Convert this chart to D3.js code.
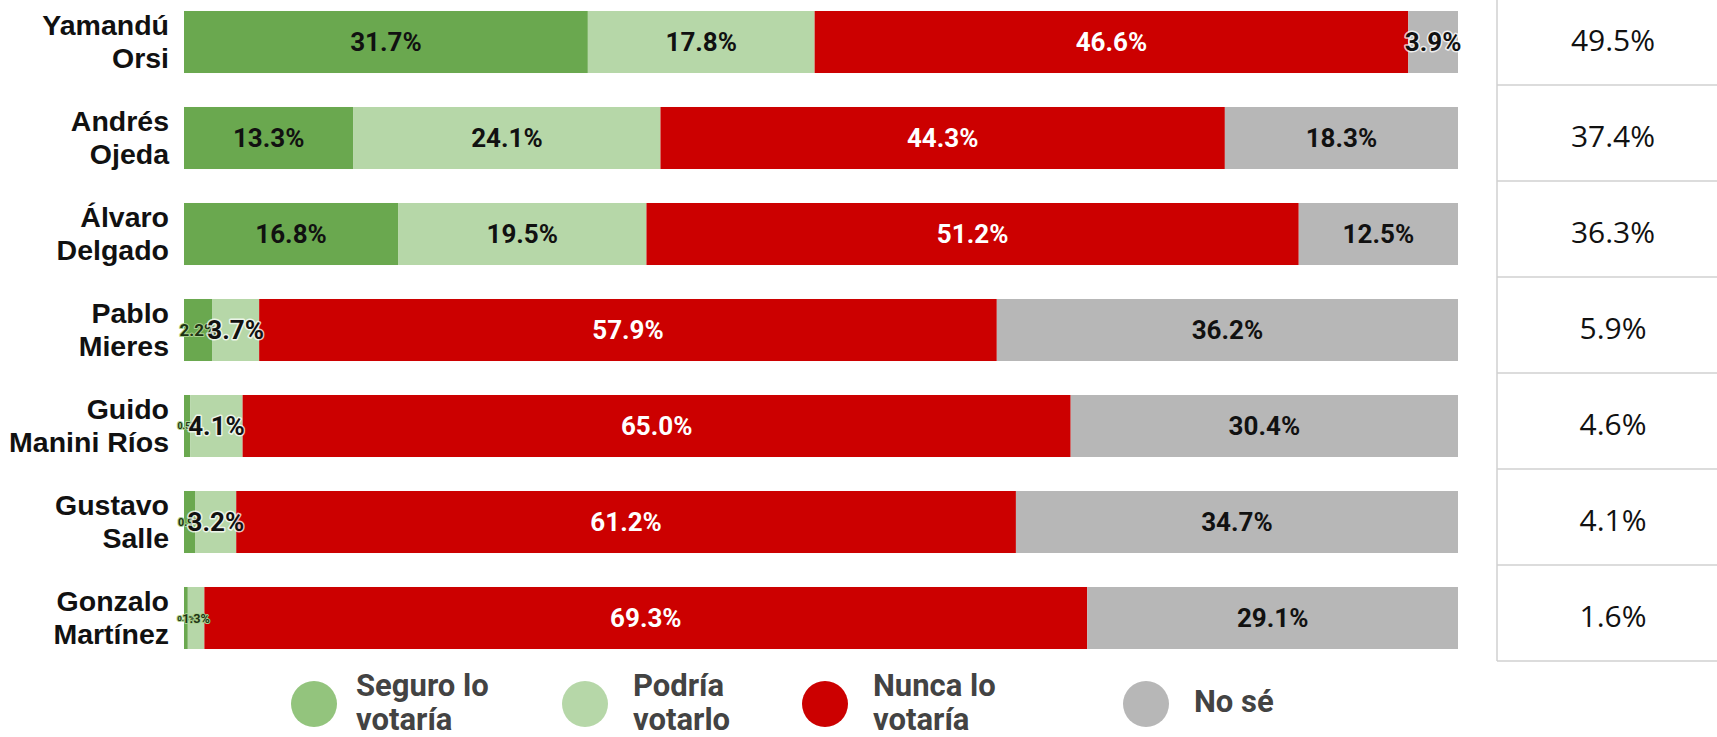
<!DOCTYPE html>
<html>
<head>
<meta charset="utf-8">
<script src="https://cdnjs.cloudflare.com/ajax/libs/d3/7.8.5/d3.min.js"></script>
<style>
  body { margin: 0; background: #fff; }
  #graphicContainer svg { display: block; }
</style>
</head>
<body>
<div id="graphicContainer"></div>
<script>

// Data
const candidates = ["Yamandú Orsi", "Andrés Ojeda", "Álvaro Delgado", "Pablo Mieres", "Guido Manini Ríos", "Gustavo Salle", "Gonzalo Martínez"]
const seguro = [31.7, 13.3, 16.8, 2.2, 0.5, 0.9, 0.3]
const podria = [17.8, 24.1, 19.5, 3.7, 4.1, 3.2, 1.3]
const nunca  = [46.6, 44.3, 51.2, 57.9, 65.0, 61.2, 69.3]
const noSe   = [3.9, 18.3, 12.5, 36.2, 30.4, 34.7, 29.1]
const conocimiento = [49.5, 37.4, 36.3, 5.9, 4.6, 4.1, 1.6]
const seriesKeys = ["Seguro lo votaría", "Podría votarlo", "Nunca lo votaría", "No sé"]

const barColors    = ["#6aa84f", "#b6d7a8", "#cc0000", "#b7b7b7"]
const legendColors = ["#93c47d", "#b6d7a8", "#cc0000", "#b7b7b7"]
const labelColors  = ["#111", "#111", "#fff", "#111"]

const width = 1717, height = 737

const rows = candidates.map((c, i) => ({
  name: c,
  [seriesKeys[0]]: seguro[i],
  [seriesKeys[1]]: podria[i],
  [seriesKeys[2]]: nunca[i],
  [seriesKeys[3]]: noSe[i],
  total: conocimiento[i]
}))

const svg = d3.select("#graphicContainer")
  .append("svg")
  .attr("width", width)
  .attr("height", height)

svg.append("rect").attr("width", width).attr("height", height).attr("fill", "#fff")

const x = d3.scaleLinear().domain([0, 100]).range([184, 1458])

const y = d3.scaleBand()
  .domain(candidates)
  .range([-6, 666])
  .paddingInner(0.354)
  .paddingOuter(0.177)

const stacked = d3.stack().keys(seriesKeys)(rows)

const fmt = d3.format(".1f")

// Small labels get shrunk, like the original
const smallSize = d3.scaleLinear().domain([0.3, 2.2]).range([8, 17]).clamp(true)

const layers = svg.append("g")
  .selectAll("g")
  .data(stacked)
  .join("g")
  .attr("fill", (d, i) => barColors[i])

layers.selectAll("rect")
  .data(d => d)
  .join("rect")
  .attr("x", d => x(d[0]))
  .attr("y", d => y(d.data.name))
  .attr("width", d => x(d[1]) - x(d[0]))
  .attr("height", y.bandwidth())

// value labels
stacked.forEach((layer, si) => {
  svg.append("g")
    .selectAll("text")
    .data(layer)
    .join("text")
    .attr("x", d => (x(d[0]) + x(d[1])) / 2)
    .attr("y", d => y(d.data.name) + y.bandwidth() / 2)
    .attr("dy", "0.36em")
    .attr("text-anchor", "middle")
    .style("font-family", "Roboto, 'Liberation Sans', sans-serif")
    .style("font-weight", "bold")
    .style("font-size", d => {
      const v = d[1] - d[0]
      return (v < 3 ? smallSize(v) : 26) + "px"
    })
    .style("fill", d => (d[1] - d[0]) < 3 ? "#1e3314" : labelColors[si])
    .style("paint-order", "stroke")
    .style("stroke", d => {
      const v = d[1] - d[0]
      if (v < 3) return "#a9d18e"
      if (v < 5) return "rgba(255,255,255,0.75)"
      return "none"
    })
    .style("stroke-width", d => (d[1] - d[0]) < 3 ? 2 : 3)
    .style("stroke-linejoin", "round")
    .text(d => fmt(d[1] - d[0]) + "%")
})

// candidate names
const names = svg.append("g")
  .selectAll("text")
  .data(candidates)
  .join("text")
  .attr("text-anchor", "end")
  .style("font-family", "'Liberation Sans', Arial, sans-serif")
  .style("font-weight", "bold")
  .style("font-size", "28.5px")
  .style("fill", "#111")

names.each(function(d) {
  const cy = y(d) + y.bandwidth() / 2
  const first = d.slice(0, d.indexOf(" "))
  const rest = d.slice(d.indexOf(" ") + 1)
  const t = d3.select(this)
  t.append("tspan").attr("x", 169).attr("y", cy - 7).text(first)
  t.append("tspan").attr("x", 169).attr("y", cy + 26).text(rest)
})

// right-hand table
const tableX = 1497
const lineColor = "#d0d0d0"

svg.append("line")
  .attr("x1", tableX).attr("x2", tableX)
  .attr("y1", 0).attr("y2", y(candidates[candidates.length - 1]) + y.step() - 22)
  .attr("stroke", lineColor).attr("stroke-width", 1.5)

svg.append("g")
  .selectAll("line")
  .data(candidates)
  .join("line")
  .attr("x1", tableX).attr("x2", width)
  .attr("y1", d => y(d) + y.step() - 22)
  .attr("y2", d => y(d) + y.step() - 22)
  .attr("stroke", lineColor).attr("stroke-width", 1.5)

svg.append("g")
  .selectAll("text")
  .data(rows)
  .join("text")
  .attr("x", 1613)
  .attr("y", d => y(d.name) + y.bandwidth() / 2 + 9)
  .attr("text-anchor", "middle")
  .style("font-family", "'Open Sans', sans-serif")
  .style("font-size", "30px")
  .style("fill", "#111")
  .text(d => fmt(d.total) + "%")

// legend
const legendCircleX = [314, 585, 825, 1146]
const legendY = 704

const legend = svg.append("g")
  .selectAll("g")
  .data(seriesKeys)
  .join("g")
  .attr("transform", (d, i) => `translate(${legendCircleX[i]},${legendY})`)

legend.append("circle")
  .attr("r", 23)
  .attr("fill", (d, i) => legendColors[i])

legend.append("text")
  .attr("x", (d, i) => i == 0 ? 42 : 48)
  .style("font-family", "Roboto, 'Liberation Sans', sans-serif")
  .style("font-weight", "bold")
  .style("font-size", "31px")
  .style("fill", "#434343")
  .each(function(d) {
    const t = d3.select(this)
    const cut = d.lastIndexOf(" ")
    if (d.length > 6) {
      t.append("tspan").attr("x", t.attr("x")).attr("y", -8).text(d.slice(0, cut))
      t.append("tspan").attr("x", t.attr("x")).attr("y", 26).text(d.slice(cut + 1))
    } else {
      t.append("tspan").attr("x", t.attr("x")).attr("y", 8).text(d)
    }
  })

</script>
</body>
</html>
